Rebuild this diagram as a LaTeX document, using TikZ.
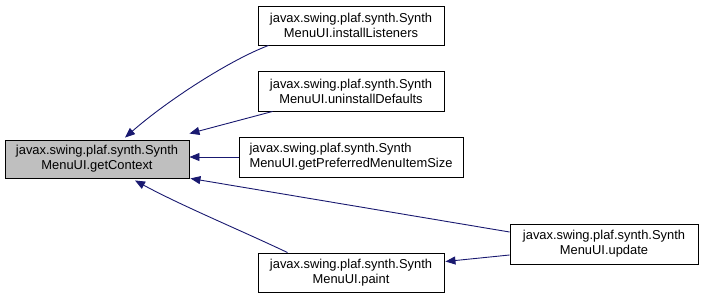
\documentclass[tikz,border=0pt]{standalone}
\usepackage{fontspec}
\setmainfont{Liberation Sans}
\usetikzlibrary{arrows.meta,calc}
\definecolor{edgeblue}{HTML}{191970}
\definecolor{rootgray}{HTML}{BFBFBF}
\begin{document}
\begin{tikzpicture}[x=1pt,y=-1pt,
  fn/.style={draw=black,line width=0.9pt,fill=white,rectangle,inner sep=0pt,
    align=center,font=\fontsize{12.9}{15}\selectfont,minimum height=39pt},
  rootfn/.style={fn,fill=rootgray},
  edge/.style={draw=edgeblue,line width=0.9pt,-{Triangle[length=10pt,width=8pt]}}]
\useasboundingbox (0,0) rectangle (703,300);

% called function
\node[rootfn,minimum width=184pt,minimum height=38pt] (ctx) at (97,159)
  {javax.swing.plaf.synth.Synth\\MenuUI.getContext};

% callers
\node[fn,minimum width=186pt] (il) at (351,25.5)
  {javax.swing.plaf.synth.Synth\\MenuUI.installListeners};
\node[fn,minimum width=186pt,minimum height=40pt] (ud) at (351,91)
  {javax.swing.plaf.synth.Synth\\MenuUI.uninstallDefaults};
\node[fn,minimum width=224pt,minimum height=40pt,align=left] (gp) at (351,157)
  {javax.swing.plaf.synth.Synth\\MenuUI.getPreferredMenuItemSize};
\node[fn,minimum width=186pt] (pt) at (351,272.5)
  {javax.swing.plaf.synth.Synth\\MenuUI.paint};
\node[fn,minimum width=188pt,minimum height=40pt] (up) at (604,244)
  {javax.swing.plaf.synth.Synth\\MenuUI.update};

% call edges
\draw[edge] ($(il.south west)+(11,0)$) .. controls (230,60) and (168,100) .. ($(ctx.north)+(28,-2)$);
\draw[edge] ($(ud.south west)+(15,0)$) -- ($(ctx.north east)+(0,-6)$);
\draw[edge] (gp.west) -- ($(ctx.east)+(0,-2)$);
\draw[edge] ($(up.west)+(0,-12)$) -- ($(ctx.south east)+(1,0)$);
\draw[edge] ($(pt.north west)+(30,0)$) .. controls (240,230) and (180,205) .. ($(ctx.south)+(38,2)$);
\draw[edge] ($(up.west)+(0,11)$) -- ($(pt.east)+(1,-11)$);
\end{tikzpicture}
\end{document}
